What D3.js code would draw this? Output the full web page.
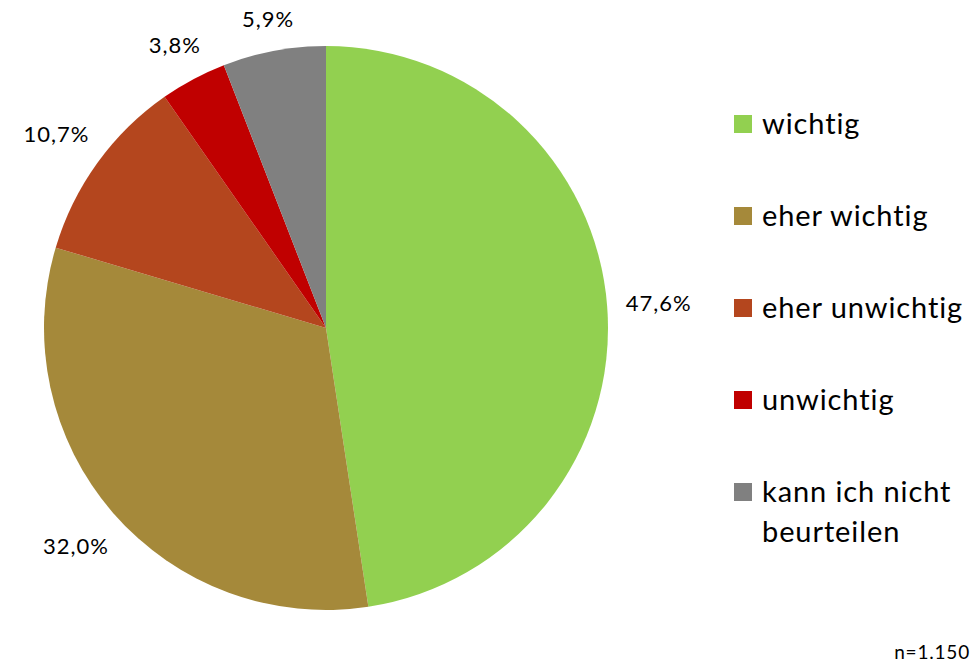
<!DOCTYPE html>
<html>
<head>
<meta charset="utf-8">
<script src="https://cdn.jsdelivr.net/npm/d3@7"></script>
<style>
  body { margin: 0; background: #fff; }
  text { font-family: Lato, "Open Sans", sans-serif; fill: #000; font-variant-ligatures: none; }
</style>
</head>
<body>
<div id="chart"></div>
<script>
    const width = 978, height = 663;

    // Daten
    const categories = ["wichtig", "eher wichtig", "eher unwichtig", "unwichtig", "kann ich nicht beurteilen"];
    const values = [47.6, 32.0, 10.7, 3.8, 5.9];
    const colors = ["#92D050", "#A5893A", "#B4461E", "#C00000", "#808080"];
    const legendLines = [["wichtig"], ["eher wichtig"], ["eher unwichtig"], ["unwichtig"], ["kann ich nicht", "beurteilen"]];
    const note = "n=1.150";

    const data = categories.map((c, i) => ({ name: c, value: values[i], color: colors[i], lines: legendLines[i] }));

    const svg = d3.select("#chart")
        .append("svg")
        .attr("width", width)
        .attr("height", height);

    const cx = 326, cy = 328, r = 282;

    const pie = d3.pie().value(d => d.value).sort(null);
    const arc = d3.arc().innerRadius(0).outerRadius(r);
    const arcs = pie(data);

    const g = svg.append("g").attr("transform", `translate(${cx},${cy})`);

    g.selectAll("path")
        .data(arcs)
        .enter().append("path")
        .attr("d", arc)
        .attr("fill", d => d.data.color);

    // Prozent-Beschriftungen außerhalb
    const fmt = v => v.toFixed(1).replace(".", ",") + "%";
    g.selectAll("text.lbl")
        .data(arcs)
        .enter().append("text")
        .attr("class", "lbl")
        .attr("font-size", 22)
        .attr("letter-spacing", 1)
        .attr("text-anchor", "middle")
        .attr("dominant-baseline", "central")
        .text(d => fmt(d.data.value))
        .each(function (d) {
            const w = this.getComputedTextLength(), h = 20;
            const a = (d.startAngle + d.endAngle) / 2;
            const ux = Math.sin(a), uy = -Math.cos(a);
            const dist = r + 18 + (w / 2) * Math.abs(ux) + (h / 2) * Math.abs(uy);
            d3.select(this).attr("x", dist * ux).attr("y", dist * uy);
        });

    // Legende
    const legend = svg.append("g").attr("transform", "translate(734,0)");
    const rowY = d3.scalePoint().domain(categories).range([124, 492]);

    const item = legend.selectAll("g.item")
        .data(data)
        .enter().append("g")
        .attr("class", "item")
        .attr("transform", d => `translate(0,${rowY(d.name)})`);

    item.append("rect")
        .attr("x", 0)
        .attr("y", -9)
        .attr("width", 18)
        .attr("height", 18)
        .attr("fill", d => d.color);

    item.append("text")
        .attr("font-size", 29)
        .attr("letter-spacing", 0.9)
        .selectAll("tspan")
        .data(d => d.lines)
        .enter().append("tspan")
        .attr("x", 28)
        .attr("y", (d, i) => 10 + i * 40)
        .text(d => d);

    svg.append("text")
        .attr("x", 970)
        .attr("y", 659)
        .attr("text-anchor", "end")
        .attr("font-size", 19)
        .attr("letter-spacing", 0.8)
        .text(note);
</script>
</body>
</html>
